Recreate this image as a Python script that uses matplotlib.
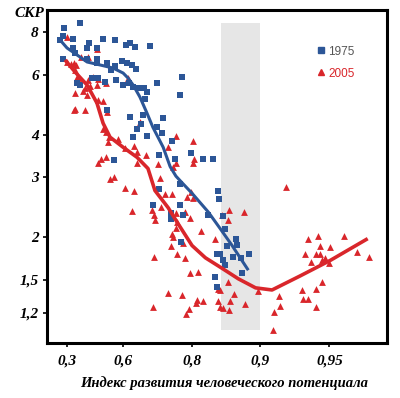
import matplotlib
matplotlib.use('Agg')
import matplotlib.pyplot as plt
from matplotlib.lines import Line2D
import numpy as np

# HDI / total fertility rate
hdi_1975 = [0.279, 0.386, 0.271, 0.341, 0.249, 0.341, 0.355, 0.439, 0.428, 0.482,
            0.513, 0.568, 0.614, 0.629, 0.647, 0.697, 0.271, 0.428, 0.482, 0.482,
            0.532, 0.568, 0.550, 0.598, 0.618, 0.636, 0.650, 0.386, 0.367, 0.456,
            0.488, 0.523, 0.572, 0.602, 0.625, 0.640, 0.657, 0.678, 0.687, 0.681,
            0.717, 0.780, 0.776, 0.532, 0.629, 0.674, 0.734, 0.667, 0.717, 0.654,
            0.640, 0.687, 0.731, 0.757, 0.564, 0.723, 0.799, 0.822, 0.839, 0.764,
            0.776, 0.723, 0.847, 0.849, 0.776, 0.705, 0.754, 0.754, 0.783, 0.831,
            0.854, 0.857, 0.778, 0.872, 0.873, 0.860, 0.845, 0.850, 0.868, 0.878,
            0.888, 0.854, 0.857, 0.879, 0.842, 0.845]
tfr_1975 = [8.22, 8.50, 7.79, 7.63, 7.58, 7.18, 6.94, 7.43, 7.18, 7.18,
            7.63, 7.58, 7.33, 7.43, 7.23, 7.28, 6.66, 6.66, 6.66, 6.49,
            6.49, 6.36, 6.19, 6.57, 6.49, 6.40, 6.23, 5.59, 5.66, 5.86,
            5.86, 5.70, 5.78, 5.59, 5.66, 5.51, 5.48, 5.48, 5.33, 5.08,
            5.66, 5.90, 5.22, 4.72, 4.50, 4.56, 4.47, 4.29, 4.20, 4.15,
            3.93, 3.95, 4.04, 3.82, 3.36, 3.48, 3.53, 3.38, 3.38, 3.38,
            2.86, 2.76, 2.74, 2.58, 2.48, 2.48, 2.35, 2.26, 2.33, 2.33,
            2.30, 2.12, 1.93, 1.97, 1.90, 1.88, 1.79, 1.78, 1.75, 1.74,
            1.79, 1.71, 1.66, 1.57, 1.53, 1.43]

hdi_2005 = [0.300, 0.482, 0.348, 0.392, 0.434, 0.300, 0.328, 0.361, 0.355, 0.367,
            0.380, 0.434, 0.461, 0.488, 0.482, 0.416, 0.445, 0.528, 0.621, 0.355,
            0.404, 0.428, 0.488, 0.513, 0.355, 0.416, 0.532, 0.664, 0.513, 0.528,
            0.541, 0.537, 0.581, 0.610, 0.643, 0.654, 0.684, 0.654, 0.720, 0.759,
            0.766, 0.747, 0.726, 0.766, 0.803, 0.805, 0.803, 0.488, 0.503, 0.528,
            0.546, 0.564, 0.610, 0.643, 0.739, 0.757, 0.636, 0.702, 0.708, 0.729,
            0.711, 0.766, 0.787, 0.797, 0.757, 0.759, 0.754, 0.783, 0.769, 0.787,
            0.708, 0.797, 0.813, 0.747, 0.780, 0.705, 0.811, 0.795, 0.789, 0.766,
            0.799, 0.791, 0.803, 0.863, 0.882, 0.853, 0.862, 0.769, 0.819, 0.842,
            0.862, 0.850, 0.870, 0.847, 0.809, 0.822, 0.864, 0.850, 0.854, 0.863,
            0.883, 0.897, 0.847, 0.917, 0.918, 0.913, 0.912, 0.934, 0.938, 0.935,
            0.943, 0.943, 0.946, 0.936, 0.938, 0.944, 0.945, 0.943, 0.945, 0.948,
            0.940, 0.946, 0.950, 0.9505, 0.957, 0.962, 0.9665, 0.923, 0.348]
tfr_2005 = [7.74, 7.13, 6.49, 6.75, 6.75, 6.53, 6.44, 6.40, 6.19, 5.90,
            5.86, 5.78, 5.90, 5.82, 5.59, 5.48, 5.55, 5.66, 5.86, 5.29,
            5.36, 5.22, 5.05, 5.02, 4.75, 4.72, 4.66, 4.35, 4.15, 4.07,
            3.93, 3.80, 3.88, 3.65, 3.70, 3.55, 3.48, 3.31, 3.27, 3.21,
            3.31, 3.67, 2.98, 3.95, 3.82, 3.38, 3.29, 3.31, 3.40, 3.43,
            2.96, 3.00, 2.78, 2.74, 2.67, 2.67, 2.38, 2.40, 2.32, 2.46,
            2.24, 2.35, 2.37, 2.27, 2.05, 2.00, 1.89, 1.92, 1.79, 1.74,
            1.75, 1.57, 1.58, 1.37, 1.35, 1.25, 1.31, 1.23, 1.19, 2.13,
            2.72, 2.62, 2.60, 2.41, 2.37, 2.32, 2.25, 2.21, 2.09, 1.98,
            1.48, 1.40, 1.36, 1.30, 1.28, 1.30, 1.30, 1.25, 1.24, 1.22,
            1.27, 1.39, 1.41, 1.34, 1.26, 1.21, 1.07, 1.40, 1.32, 1.32,
            1.41, 1.25, 1.48, 1.78, 1.97, 2.02, 1.89, 1.78, 1.78, 1.74,
            1.69, 1.71, 1.68, 1.87, 2.02, 1.81, 1.75, 2.80, 4.72]

# smoothed trend lines
line_hdi_1975 = [0.249, 0.300, 0.367, 0.428, 0.498, 0.559, 0.602, 0.621, 0.640, 0.664,
                 0.687, 0.705, 0.734, 0.752, 0.766, 0.783, 0.801, 0.831, 0.850, 0.867, 0.887]
line_tfr_1975 = [7.58, 7.18, 6.85, 6.53, 6.40, 6.27, 6.06, 5.86, 5.59, 5.15,
                 4.62, 4.20, 3.67, 3.22, 3.02, 2.86, 2.69, 2.37, 2.12, 1.89, 1.60]
line_hdi_2005 = [0.286, 0.355, 0.428, 0.482, 0.513, 0.546, 0.602, 0.654, 0.690, 0.711,
                 0.747, 0.771, 0.801, 0.826, 0.853, 0.875, 0.895, 0.911, 0.933, 0.9505, 0.966]
line_tfr_2005 = [6.62, 6.10, 5.59, 4.95, 4.32, 3.93, 3.67, 3.43, 3.18, 2.74,
                 2.44, 2.19, 1.89, 1.74, 1.62, 1.51, 1.42, 1.40, 1.54, 1.71, 1.98]

band = (0.852, 0.90)
xticks = [0.3, 0.6, 0.8, 0.9, 0.95]
xtick_labels = ['0,3', '0,6', '0,8', '0,9', '0,95']
yticks = [1.2, 1.5, 2, 3, 4, 6, 8]
ytick_labels = ['1,2', '1,5', '2', '3', '4', '6', '8']

blue = '#2c5697'
red = '#d9262b'


def fwd(x):
    x = np.clip(np.asarray(x, dtype=float), -10, 0.999999)
    return -np.log(1 - x)


def inv(t):
    return 1 - np.exp(-np.asarray(t, dtype=float))


fig = plt.figure(figsize=(4.0, 3.98), dpi=100)
ax = fig.add_axes([0.1175, 0.138, 0.85, 0.837])
ax.set_xscale('function', functions=(fwd, inv))
ax.set_yscale('log')
ax.set_xlim(0.144, 0.972)
ax.set_ylim(0.978, 9.28)

ax.fill_between(band, 1.07, 8.5, color='#e6e6e6', lw=0, zorder=0)

ax.scatter(hdi_2005, tfr_2005, marker='^', s=24, color=red, lw=0, zorder=2)
ax.scatter(hdi_1975, tfr_1975, marker='s', s=16, color=blue, lw=0, zorder=3)
ax.plot(line_hdi_2005, line_tfr_2005, color=red, lw=2.6, zorder=4,
        solid_capstyle='butt')
ax.plot(line_hdi_1975, line_tfr_1975, color=blue, lw=2.2, zorder=5,
        solid_capstyle='butt')

serif = dict(family='Liberation Serif', weight='bold', style='italic')

ax.set_xticks(xticks)
ax.set_xticklabels(xtick_labels, fontsize=11, **serif)
ax.set_yticks(yticks)
ax.set_yticklabels(ytick_labels, fontsize=11, **serif)
ax.yaxis.set_minor_locator(matplotlib.ticker.NullLocator())
ax.xaxis.set_minor_locator(matplotlib.ticker.NullLocator())
ax.tick_params(direction='out', length=3, width=1.2)
ax.tick_params(axis='x', pad=5)
ax.tick_params(axis='y', pad=3)

for side in ['bottom', 'left', 'right', 'top']:
    ax.spines[side].set_linewidth(2.2)

fig.text(0.035, 0.966, 'СКР', fontsize=11, ha='left', va='center', **serif)
fig.text(0.56, 0.037, 'Индекс развития человеческого потенциала',
         fontsize=10.5, ha='center', va='center', **serif)

handles = [Line2D([], [], marker='s', color=blue, ls='none', markersize=4),
           Line2D([], [], marker='^', color=red, ls='none', markersize=4.5)]
leg = ax.legend(handles, ['1975', '2005'], loc='upper left',
                bbox_to_anchor=(0.765, 0.925), frameon=False, handlelength=0.5,
                handletextpad=0.4, labelspacing=0.85,
                prop={'family': 'Liberation Sans', 'size': 8.5})
leg.get_texts()[0].set_color('#555555')
leg.get_texts()[1].set_color(red)

fig.savefig('out.png', dpi=100)
